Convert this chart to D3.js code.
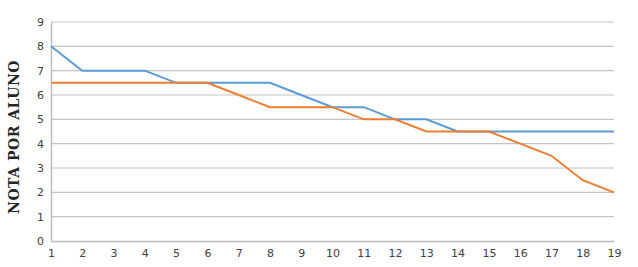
<!DOCTYPE html>
<html>
<head>
<meta charset="utf-8">
<script src="https://cdn.jsdelivr.net/npm/d3@7"></script>
<style>
  body { margin: 0; background: #fff; }
  svg { display: block; }
</style>
</head>
<body>
<div id="chart"></div>
<script>
// data
var alunos = [1,2,3,4,5,6,7,8,9,10,11,12,13,14,15,16,17,18,19];
var serieAzul = [8,7,7,7,6.5,6.5,6.5,6.5,6,5.5,5.5,5,5,4.5,4.5,4.5,4.5,4.5,4.5];
var serieLaranja = [6.5,6.5,6.5,6.5,6.5,6.5,6,5.5,5.5,5.5,5,5,4.5,4.5,4.5,4,3.5,2.5,2];
var yTicks = [0,1,2,3,4,5,6,7,8,9];

var margin = {top: 22, right: 24, bottom: 26, left: 51},
    width = 638 - margin.left - margin.right,
    height = 267 - margin.top - margin.bottom;

var svg = d3.select("#chart").append("svg")
    .attr("width", 638)
    .attr("height", 267);

var g = svg.append("g")
    .attr("transform", "translate(" + margin.left + "," + margin.top + ")");

var x = d3.scaleLinear().domain([1, 19]).range([0, width]);
var y = d3.scaleLinear().domain([0, 9]).range([height, 0]);

// gridlines
g.selectAll(".grid")
    .data(yTicks.slice(1))
  .enter().append("line")
    .attr("x1", 0)
    .attr("x2", width)
    .attr("y1", function(d) { return y(d); })
    .attr("y2", function(d) { return y(d); })
    .attr("stroke", "#c4c4c4")
    .attr("stroke-width", 1.2);

// y axis
var yAxis = g.append("g")
    .call(d3.axisLeft(y).tickValues(yTicks).tickSize(0).tickPadding(7));
yAxis.select(".domain").attr("stroke", "#bdbdbd").attr("stroke-width", 1.5);
yAxis.selectAll("text")
    .attr("font-family", "DejaVu Sans, sans-serif")
    .attr("font-size", 11)
    .attr("fill", "#404040");

// x axis
var xAxis = g.append("g")
    .attr("transform", "translate(0," + height + ")")
    .call(d3.axisBottom(x).tickValues(alunos).tickSize(0).tickPadding(8));
xAxis.select(".domain").attr("stroke", "#bdbdbd").attr("stroke-width", 1.5);
xAxis.selectAll("text")
    .attr("font-family", "DejaVu Sans, sans-serif")
    .attr("font-size", 11)
    .attr("fill", "#404040");

// lines
var line = d3.line()
    .x(function(d, i) { return x(alunos[i]); })
    .y(function(d) { return y(d); });

g.append("path")
    .datum(serieAzul)
    .attr("fill", "none")
    .attr("stroke", "#5b9bd5")
    .attr("stroke-width", 2)
    .attr("d", line);

g.append("path")
    .datum(serieLaranja)
    .attr("fill", "none")
    .attr("stroke", "#ed7d31")
    .attr("stroke-width", 2)
    .attr("d", line);

// y axis title
svg.append("text")
    .attr("transform", "translate(19,137) rotate(-90)")
    .attr("text-anchor", "middle")
    .attr("font-family", "DejaVu Serif, serif")
    .attr("font-weight", "bold")
    .attr("font-size", 14)
    .attr("letter-spacing", 0.5)
    .attr("fill", "#262626")
    .text("NOTA POR ALUNO");
</script>
</body>
</html>
